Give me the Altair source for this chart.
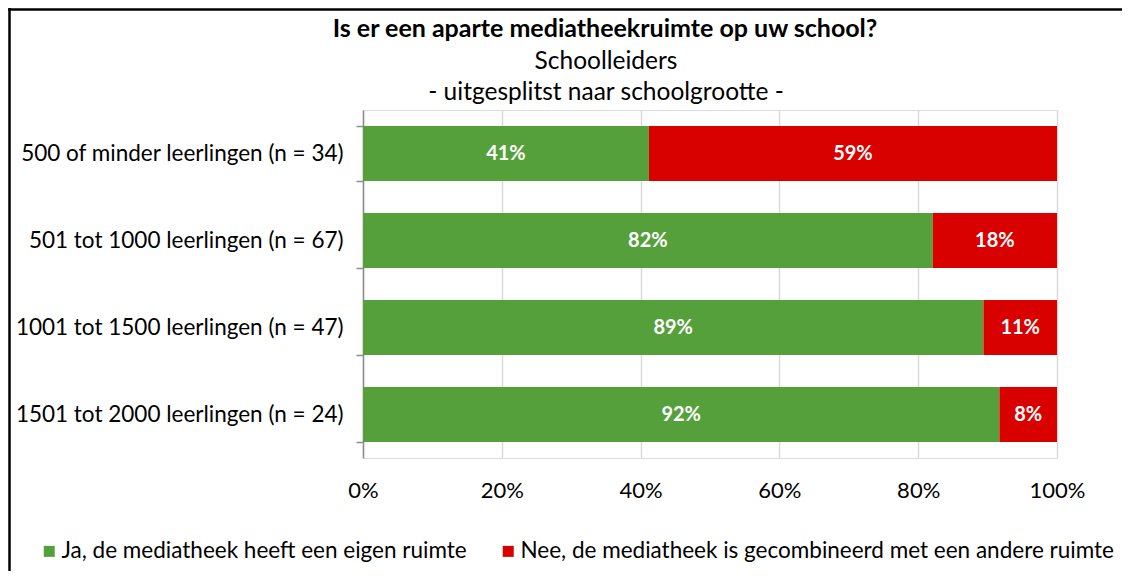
import altair as alt
import pandas as pd

categories = [
    "500 of minder leerlingen (n = 34)",
    "501 tot 1000 leerlingen (n = 67)",
    "1001 tot 1500 leerlingen (n = 47)",
    "1501 tot 2000 leerlingen (n = 24)",
]
series = [
    "Ja, de mediatheek heeft een eigen ruimte",
    "Nee, de mediatheek is gecombineerd met een andere ruimte",
]
ja_values = [0.412, 0.821, 0.894, 0.917]
nee_values = [0.588, 0.179, 0.106, 0.083]
colors = ["#56A03C", "#D90000"]
x_ticks = [0, 0.2, 0.4, 0.6, 0.8, 1.0]
title_text = "Is er een aparte mediatheekruimte op uw school?"
subtitle_lines = ["Schoolleiders", "- uitgesplitst naar schoolgrootte -"]

rows = []
for c, j, n in zip(categories, ja_values, nee_values):
    rows.append({"cat": c, "serie": series[0], "order": 0, "value": j})
    rows.append({"cat": c, "serie": series[1], "order": 1, "value": n})
df = pd.DataFrame(rows)

FONT = "Lato"
W, H = 694, 348
PL, PT = 355, 102
PR = 1114 - PL - W
PB = 563 - PT - H

ycat = alt.Y(
    "cat:N",
    sort=categories,
    title=None,
    scale=alt.Scale(paddingInner=0.37, paddingOuter=0.185),
    axis=alt.Axis(
        tickBand="extent",
        tickSize=7,
        labelPadding=13,
        domainColor="#8c8c8c",
        tickColor="#8c8c8c",
        domainWidth=1.5,
        tickWidth=1.5,
        labelFontSize=22.5,
        labelColor="#000000",
        labelFont=FONT,
        labelLimit=400,
        grid=False,
    ),
)

xscale = alt.Scale(domain=[0, 1], nice=False)

bars = alt.Chart(df).mark_bar().encode(
    x=alt.X(
        "value:Q",
        stack="zero",
        scale=xscale,
        title=None,
        axis=alt.Axis(
            values=x_ticks,
            format="%",
            domain=False,
            ticks=False,
            grid=True,
            gridColor="#d9d9d9",
            gridWidth=1.5,
            labelFlush=False,
            labelPadding=22,
            labelFontSize=22,
            labelColor="#000000",
            labelFont=FONT,
        ),
    ),
    y=ycat,
    color=alt.Color(
        "serie:N",
        sort=series,
        scale=alt.Scale(domain=series, range=colors),
        legend=alt.Legend(
            title=None,
            orient="none",
            direction="horizontal",
            legendX=-325,
            legendY=430,
            symbolType="square",
            symbolSize=121,
            symbolStrokeWidth=0,
            labelFontSize=22.5,
            labelFont=FONT,
            labelColor="#000000",
            labelOffset=1,
            columnPadding=30,
            padding=0,
            labelLimit=800,
        ),
    ),
    order=alt.Order("order:Q"),
)

labels = (
    alt.Chart(df)
    .transform_stack(
        stack="value", groupby=["cat"], as_=["x0", "x1"], sort=[alt.SortField("order")]
    )
    .transform_calculate(mid="(datum.x0 + datum.x1) / 2")
    .mark_text(color="white", fontWeight="bold", fontSize=20, font=FONT)
    .encode(
        x=alt.X("mid:Q", scale=xscale),
        y=alt.Y("cat:N", sort=categories),
        text=alt.Text("value:Q", format=".0%"),
    )
)

one = pd.DataFrame({"a": [0]})
border_left = alt.Chart(one).mark_rule(color="black", strokeWidth=2.5).encode(
    x=alt.value(-353.5), y=alt.value(-102), y2=alt.value(H + PB)
)
border_top = alt.Chart(one).mark_rule(color="black", strokeWidth=2.5).encode(
    x=alt.value(-354.75), x2=alt.value(W + PR), y=alt.value(-100.5)
)

title_mark = alt.Chart(pd.DataFrame({"t": [title_text]})).mark_text(
    font=FONT, fontSize=25, fontWeight="bold", color="#000000",
    align="center", baseline="alphabetic",
).encode(text="t:N", x=alt.value(242), y=alt.value(-73))
sub1 = alt.Chart(pd.DataFrame({"t": [subtitle_lines[0]]})).mark_text(
    font=FONT, fontSize=24.5, color="#000000", align="center", baseline="alphabetic",
).encode(text="t:N", x=alt.value(243), y=alt.value(-41))
sub2 = alt.Chart(pd.DataFrame({"t": [subtitle_lines[1]]})).mark_text(
    font=FONT, fontSize=24.5, color="#000000", align="center", baseline="alphabetic",
).encode(text="t:N", x=alt.value(243), y=alt.value(-10))

chart = (
    alt.layer(bars, labels, border_left, border_top, title_mark, sub1, sub2)
    .properties(
        width=W,
        height=H,
        autosize=alt.AutoSizeParams(type="none"),
        padding={"left": PL, "top": PT, "right": PR, "bottom": PB},
    )
    .configure_view(stroke=None)
    .configure(background="white")
)

chart.save("out.html", embed_options={"renderer": "svg", "actions": False})
